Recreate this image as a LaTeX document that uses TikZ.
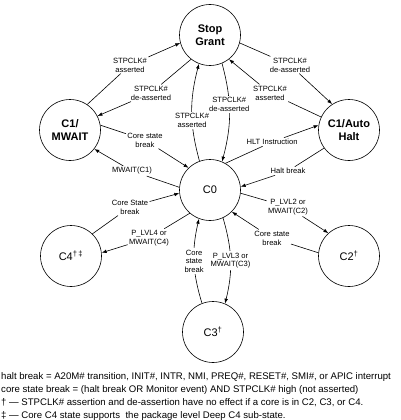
\documentclass[tikz,border=0pt]{standalone}
\usepackage{fontspec}
\setmainfont{Liberation Sans}
\usetikzlibrary{arrows.meta}

\tikzset{
  state/.style={circle, draw, line width=0.6pt, minimum size=61pt, inner sep=0pt, align=center, font=\fontsize{11}{12.5}\selectfont},
  bstate/.style={state, font=\fontsize{11}{12.5}\selectfont\bfseries},
  lbl/.style={fill=white, inner sep=1.3pt, align=center, font=\fontsize{7.6}{8.8}\selectfont},
  arr/.style={line width=0.6pt, -{Latex[length=5pt,width=3.6pt]}},
  note/.style={inner sep=0pt, anchor=base west, font=\fontsize{9.6}{13}\selectfont},
}

\begin{document}
\begin{tikzpicture}
\useasboundingbox (0,0) rectangle (400pt,-420pt);
\begin{scope}[x=1pt,y=1pt]
  % states
  \node[bstate] (sg) at (210,-35) {Stop\\Grant};
  \node[bstate] (c1m) at (70,-130) {C1/\\MWAIT};
  \node[bstate] (c1h) at (349,-130) {C1/Auto\\Halt};
  \node[state] (c0) at (210,-190) {C0};
  \node[state] (c4) at (71,-256) {C4\textsuperscript{†\,‡}};
  \node[state] (c2) at (349,-256) {C2\textsuperscript{†}};
  \node[state] (c3) at (213,-332) {C3\textsuperscript{†}};

  % labels of the straight transitions
  \node[lbl] (l1) at (130,-65) {STPCLK\#\\asserted};
  \node[lbl] (l2) at (151,-93) {STPCLK\#\\de-asserted};
  \node[lbl] (l3) at (290,-65) {STPCLK\#\\de-asserted};
  \node[lbl] (l4) at (270,-93) {STPCLK\#\\asserted};
  \node[lbl] (l7) at (145,-140) {Core state\\break};
  \node[lbl] (l8) at (132,-171) {MWAIT(C1)};
  \node[lbl] (l9) at (272,-142) {HLT Instruction};
  \node[lbl] (l10) at (288,-171) {Halt break};
  \node[lbl] (l11) at (130,-207) {Core State\\break};
  \node[lbl] (l12) at (149,-238) {P\_LVL4 or\\MWAIT(C4)};
  \node[lbl] (l15) at (288,-207) {P\_LVL2 or\\MWAIT(C2)};
  \node[lbl] (l16) at (272,-238) {Core state\\break};

  \draw[arr] (c1m.56) -- (l1) -- (sg.195);
  \draw[arr] (sg.232) -- (l2) -- (c1m.27);
  \draw[arr] (sg.345) -- (l3) -- (c1h.123);
  \draw[arr] (c1h.155) -- (l4) -- (sg.308);
  \draw[arr] (c1m.9) -- (l7) -- (c0.134);
  \draw[arr] (c0.175) -- (l8) -- (c1m.322);
  \draw[arr] (c0.60) -- (l9) -- (c1h.171);
  \draw[arr] (c1h.216) -- (l10) -- (c0.6);
  \draw[arr] (c4.46) -- (l11) -- (c0.186);
  \draw[arr] (c0.229) -- (l12) -- (c4.6);
  \draw[arr] (c0.354) -- (l15) -- (c2.132);
  \draw[arr] (c2.174) -- (l16) -- (c0.315);

  % curved transitions
  \draw[arr] (c0.110) to[bend left=15] node[lbl, pos=0.41] (l5) {STPCLK\#\\asserted} (sg.249);
  \draw[arr] (sg.293) to[bend left=15] node[lbl, pos=0.41] (l6) {STPCLK\#\\de-asserted} (c0.67);
  \draw[arr] (c3.111) to[bend left=15] node[lbl, pos=0.5] (l13) {Core\\state\\break} (c0.249);
  \draw[arr] (c0.295) to[bend left=15] node[lbl, pos=0.5] (l14) {P\_LVL3 or\\MWAIT(C3)} (c3.67);

  % notes
  \foreach \t [count=\i] in {
      {halt break = A20M\# transition, INIT\#, INTR, NMI, PREQ\#, RESET\#, SMI\#, or APIC interrupt},
      {core state break = (halt break OR Monitor event) AND STPCLK\# high (not asserted)},
      {† — STPCLK\# assertion and de-assertion have no effect if a core is in C2, C3, or C4.},
      {‡ — Core C4 state supports~ the package level Deep C4 sub-state.}}
    \node[note] (note\i) at (1,{-379-13*(\i-1)}) {\t};
\end{scope}
\end{tikzpicture}
\end{document}
